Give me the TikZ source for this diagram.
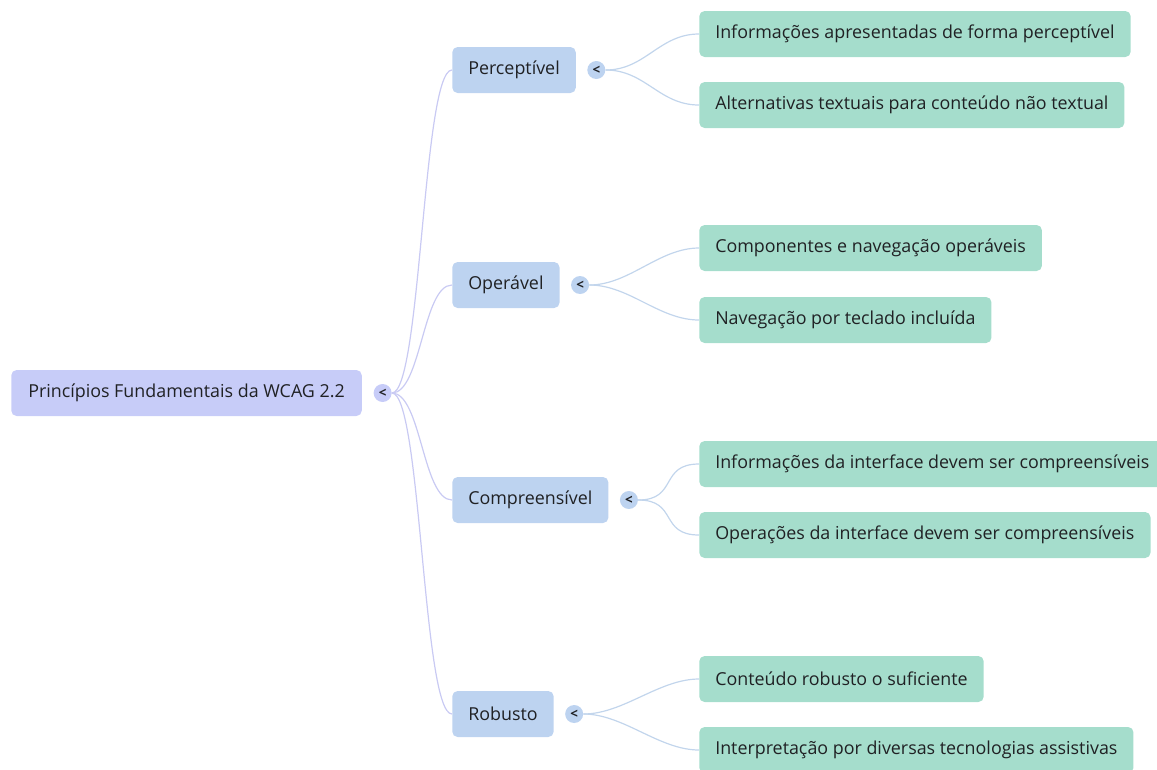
\documentclass[tikz,border=0pt]{standalone}
\usepackage{fontspec}
\setmainfont{Open Sans}
\usetikzlibrary{positioning}

\definecolor{rootfill}{HTML}{C7CCF8}
\definecolor{topicfill}{HTML}{BDD3F0}
\definecolor{leaffill}{HTML}{A5DDCC}
\definecolor{rootline}{HTML}{C9CAF3}
\definecolor{topicline}{HTML}{C2D5EC}
\definecolor{ink}{HTML}{202124}

\tikzset{
  box/.style={rounded corners=4pt, text=ink, minimum height=34.5pt, inner xsep=12pt, anchor=west,
    font=\fontsize{13.4}{15}\selectfont},
  rootbox/.style={box, fill=rootfill, inner xsep=12.75pt},
  topic/.style={box, fill=topicfill},
  leaf/.style={box, fill=leaffill},
  toggle/.style={circle, fill=topicfill, minimum size=13.5pt, inner sep=0pt, text=ink,
    font=\fontsize{10}{10}\selectfont\bfseries},
  rootedge/.style={rootline, line width=0.9pt, out=0, in=180, out distance=22pt, in distance=22pt},
  topicedge/.style={topicline, line width=0.9pt, out=0, in=180, out distance=30pt, in distance=30pt},
}

\begin{document}
\begin{tikzpicture}[x=0.75pt, y=-0.75pt]
    \useasboundingbox (0, 0) rectangle (1157, 769);

    % root
    \node[rootbox] (wcag) at (11, 393) {Princípios Fundamentais da WCAG 2.2};
    \node[toggle, fill=rootfill, right=8.5pt of wcag] (wcagt) {<};

    % principles
    \node[topic] (perc) at (452, 70) {Perceptível};
    \node[toggle, right=8.25pt of perc] (perct) {<};
    \node[topic] (oper) at (452, 285) {Operável};
    \node[toggle, right=8.25pt of oper] (opert) {<};
    \node[topic] (comp) at (452, 500) {Compreensível};
    \node[toggle, right=8.25pt of comp] (compt) {<};
    \node[topic] (robu) at (452, 714) {Robusto};
    \node[toggle, right=8.25pt of robu] (robut) {<};

    % details
    \node[leaf] (perc1) at (699, 34) {Informações apresentadas de forma perceptível};
    \node[leaf] (perc2) at (699, 105) {Alternativas textuais para conteúdo não textual};
    \node[leaf] (oper1) at (699, 248) {Componentes e navegação operáveis};
    \node[leaf] (oper2) at (699, 320) {Navegação por teclado incluída};
    \node[leaf] (comp1) at (699, 464) {Informações da interface devem ser compreensíveis};
    \node[leaf] (comp2) at (699, 535) {Operações da interface devem ser compreensíveis};
    \node[leaf] (robu1) at (699, 679) {Conteúdo robusto o suficiente};
    \node[leaf] (robu2) at (699, 750) {Interpretação por diversas tecnologias assistivas};

    \draw[rootedge] (wcagt.east) to (perc.west);
    \draw[rootedge] (wcagt.east) to (oper.west);
    \draw[rootedge] (wcagt.east) to (comp.west);
    \draw[rootedge] (wcagt.east) to (robu.west);

    \draw[topicedge] (perct.east) to (perc1.west);
    \draw[topicedge] (perct.east) to (perc2.west);
    \draw[topicedge] (opert.east) to (oper1.west);
    \draw[topicedge] (opert.east) to (oper2.west);
    \draw[topicedge] (compt.east) to (comp1.west);
    \draw[topicedge] (compt.east) to (comp2.west);
    \draw[topicedge] (robut.east) to (robu1.west);
    \draw[topicedge] (robut.east) to (robu2.west);
\end{tikzpicture}
\end{document}
